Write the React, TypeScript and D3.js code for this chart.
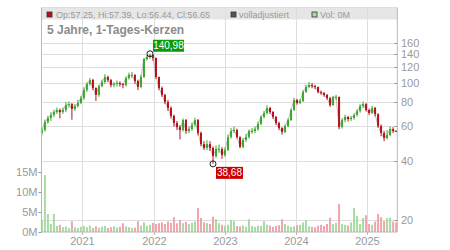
import React from "react";
import * as d3 from "d3";

// Closing prices, one per ~15-day period
const closes = [
  57.6, 63.2, 66.3, 68.7, 71.1, 72.8, 71.1, 72.8, 77.2, 78.1,
  73.7, 76.3, 79.1, 83.8, 92.1, 98.8, 103.6, 94.3, 86.9, 96.5,
  101.2, 107.3, 103.6, 97.7, 98.8, 100.0, 98.8, 97.7, 106.0, 109.9,
  109.9, 102.4, 95.4, 107.3, 132.5, 135.7, 139.0, 134.2, 107.3, 94.3,
  86.9, 80.0, 74.6, 67.9, 62.5, 59.6, 57.6, 64.7, 56.9, 58.2,
  61.1, 64.7, 55.6, 48.8, 46.6, 48.8, 46.6, 42.4, 46.1, 46.1,
  42.9, 45.5, 53.0, 56.9, 57.6, 53.0, 47.2, 51.2, 53.0, 56.9,
  56.9, 58.2, 61.8, 67.1, 70.3, 74.6, 71.1, 67.1, 62.5, 58.9,
  56.2, 60.3, 64.7, 72.8, 81.9, 79.1, 80.9, 90.0, 95.4, 97.7,
  96.5, 95.4, 90.0, 88.9, 86.9, 83.8, 77.2, 84.8, 84.8, 59.6,
  64.7, 67.1, 65.5, 66.3, 68.7, 71.9, 76.3, 78.1, 72.8, 70.3,
  74.6, 69.5, 60.3, 55.6, 52.4, 54.3, 58.2, 56.9, 56.65,
];
const firstOpen = 55.5;

// Period highs and lows
const highs = [
  59, 65, 68, 71, 73, 75, 74, 75, 80, 80.5,
  79, 78, 82, 86, 95, 101, 106, 105, 95, 98,
  104, 111, 109, 105, 101, 103, 102, 100, 108, 113,
  114, 111, 104, 110, 134, 139, 140.98, 140, 135, 108,
  96, 88, 82, 76, 69, 64, 61, 66, 65.5, 60,
  63, 66.5, 65.5, 56.5, 50.5, 51, 50.5, 47.5, 48, 48.5,
  47, 47, 54.5, 59, 60, 58.5, 53.5, 52.5, 55, 58,
  59, 60, 63.5, 68.5, 72, 77, 75.5, 72, 68, 63.5,
  59.5, 61.5, 66, 74, 84, 83, 83, 92, 98, 101,
  100, 98, 96, 91.5, 90, 88, 85, 86, 87, 85.5,
  66, 69, 68, 68, 70, 73.5, 78, 80.5, 79, 74,
  76.5, 75.5, 70, 61.5, 57, 57.5, 60, 59.5, 57.39,
];
const lows = [
  54, 56.5, 62, 64, 67, 69.5, 66, 69.5, 71, 75,
  65, 72, 75, 78, 82, 90, 97, 92, 81, 85,
  95, 99, 101, 95, 95, 96, 96, 94, 96, 104,
  106, 99, 92, 94, 106, 130, 133, 130, 105, 92,
  85, 78, 72, 66, 60, 57.5, 51.5, 56.5, 55, 55.5,
  57, 60, 54, 47.5, 45.5, 45.5, 45, 38.68, 41.5, 44,
  41, 42, 45, 52, 55.5, 52, 46.5, 46.5, 50, 52,
  55, 55.5, 57, 61, 66, 69, 69.5, 65.5, 61, 57.5,
  54.5, 55.5, 59.5, 64, 72, 77.5, 78, 80, 89, 94,
  94, 93, 88.5, 87, 85, 82, 75.5, 76.5, 82, 58,
  58.5, 63, 63.5, 64, 65, 67.5, 70.5, 74.5, 71.5, 68.5,
  69.5, 67.5, 59, 53.5, 50.5, 51.5, 53.5, 55.5, 56.44,
];

// Volume per period, in millions
const volumesM = [
  3.0, 14.2, 4.5, 2.0, 4.5, 1.5, 1.8, 1.2, 1.4, 1.0,
  2.7, 1.2, 1.0, 1.3, 1.5, 1.2, 1.6, 1.0, 1.4, 1.1,
  1.3, 1.5, 1.0, 1.2, 1.4, 1.1, 1.3, 2.2, 1.4, 1.2,
  1.0, 1.1, 2.7, 1.6, 2.4, 1.5, 1.8, 2.3, 2.0, 2.2,
  2.4, 2.0, 2.6, 2.3, 3.7, 2.2, 3.0, 2.2, 2.5, 2.0,
  2.3, 2.6, 6.0, 3.5, 2.4, 2.2, 2.0, 3.8, 3.2, 2.2,
  1.8, 1.6, 1.8, 3.0, 2.7, 1.5, 1.4, 1.6, 1.3, 3.2,
  1.5, 1.3, 1.6, 1.5, 2.7, 1.8, 1.6, 1.3, 1.5, 1.7,
  3.2, 2.0, 1.6, 1.3, 1.4, 1.7, 1.8, 2.4, 3.0, 1.4,
  1.3, 1.2, 1.6, 1.8, 1.5, 2.0, 3.6, 2.0, 2.3, 7.0,
  2.0, 1.8, 1.6, 2.4, 6.0, 4.0, 2.0, 3.5, 4.2, 2.0,
  1.8, 2.6, 4.5, 3.7, 2.7, 3.5, 3.6, 2.6, 2.4,
];

const startDate = new Date(2020, 5, 8);
const periodDays = 15.38;
const domainStart = new Date(2020, 5, 6);
const domainEnd = new Date(2025, 5, 3);

const yearTicks = [2021, 2022, 2023, 2024, 2025];
const priceTicks = [20, 40, 60, 80, 100, 120, 140, 160];
const volumeTicks = [0, 5, 10, 15];
const volumeLabels = ["0M", "5M", "10M", "15M"];

const highMark = { index: 36, value: 140.98, label: "140,98" };
const lowMark = { index: 57, value: 38.68, label: "38,68" };

const headerText = "Op:57.25, Hi:57.39, Lo:56.44, Cl:56.65";
const titleText = "5 Jahre, 1-Tages-Kerzen";
const legendAdjusted = "volladjustiert";
const legendVolume = "Vol: 0M";

const FONT = "'Liberation Sans', Arial, sans-serif";
const RED = "#b5121b";
const GREEN = "#3fa72f";
const GRID = "#dedede";
const AXIS = "#b8b8b8";
const TEXT = "#9a9a9a";

export default function App() {
  const L = 41.5, R = 397.3, T = 7.5, B = 232;
  const x = d3.scaleTime().domain([domainStart, domainEnd]).range([L, R]);
  const y = d3.scaleLog().domain([20, 160]).range([220, 43]);
  const yv = d3.scaleLinear().domain([0, 15]).range([B, 172]);

  const candles = closes.map((c, i) => {
    const date = new Date(startDate.getTime() + i * periodDays * 864e5);
    const open = i === 0 ? firstOpen : closes[i - 1];
    return { date, open, close: c, high: highs[i], low: lows[i], vol: volumesM[i], up: c >= open };
  });

  const line = d3
    .line<(typeof candles)[number]>()
    .x((d) => x(d.date))
    .y((d) => y(d.close));

  const hm = candles[highMark.index];
  const lm = candles[lowMark.index];
  const hx = x(hm.date), hy = y(highMark.value);
  const lx = x(lm.date), ly = y(lowMark.value);

  return (
    <svg
      width={450}
      height={250}
      style={{ position: "absolute", left: 0, top: 0, fontFamily: FONT }}
    >
      <rect x={0} y={0} width={450} height={250} fill="#fff" />
      {/* header band */}
      <rect x={L} y={T} width={R - L} height={12} fill="#e6e6e6" />
      {/* horizontal grid */}
      {priceTicks.map((t) => (
        <line key={t} x1={L} x2={R} y1={Math.round(y(t)) + 0.5} y2={Math.round(y(t)) + 0.5} stroke={GRID} />
      ))}
      <line x1={L} x2={R} y1={T} y2={T} stroke={GRID} />
      {/* vertical grid */}
      {yearTicks.map((yr) => {
        const xx = Math.round(x(new Date(yr, 0, 1))) + 0.5;
        return <line key={yr} x1={xx} x2={xx} y1={T} y2={B} stroke={GRID} />;
      })}
      {/* volume */}
      {candles.map((d, i) => (
        <rect
          key={"v" + i}
          x={x(d.date) - 1}
          y={yv(d.vol)}
          width={2}
          height={B - yv(d.vol)}
          fill={d.up ? "#a8dba2" : "#f0a5ad"}
        />
      ))}
      {/* close line */}
      <path d={line(candles) || ""} fill="none" stroke="#b0b0b0" strokeWidth={0.8} />
      {/* candles */}
      {candles.map((d, i) => {
        const y1 = y(Math.max(d.open, d.close));
        const y2 = y(Math.min(d.open, d.close));
        const cx = x(d.date);
        const col = d.up ? GREEN : RED;
        return (
          <g key={"c" + i}>
            <line x1={cx} x2={cx} y1={y(d.high)} y2={y(d.low)} stroke={col} strokeWidth={1} />
            <rect x={cx - 1} y={y1} width={2} height={Math.max(1, y2 - y1)} fill={col} />
          </g>
        );
      })}
      {/* markers */}
      <circle cx={hx} cy={hy} r={3} fill="none" stroke="#222" strokeWidth={1} />
      <rect x={hx + 3} y={hy - 14} width={31} height={12} fill="#0a9a0a" />
      <text x={hx + 18.5} y={hy - 4.5} fontSize={10} fill="#fff" textAnchor="middle">{highMark.label}</text>
      <circle cx={lx} cy={ly} r={3} fill="none" stroke="#222" strokeWidth={1} />
      <rect x={lx + 3} y={ly + 3} width={27} height={12} fill="#cc0000" />
      <text x={lx + 16.5} y={ly + 12.5} fontSize={10} fill="#fff" textAnchor="middle">{lowMark.label}</text>
      {/* header content */}
      <rect x={47} y={12} width={5} height={5} fill={RED} stroke="#333" strokeWidth={0.8} />
      <text x={56} y={17.5} fontSize={9} fill={TEXT}>{headerText}</text>
      <rect x={231} y={12} width={5} height={5} fill="#555" stroke="#333" strokeWidth={0.8} />
      <text x={239} y={17.5} fontSize={9} fill={TEXT}>{legendAdjusted}</text>
      <rect x={312} y={12} width={5} height={5} fill="#a8dba2" stroke="#333" strokeWidth={0.8} />
      <text x={320} y={17.5} fontSize={9} fill={TEXT}>{legendVolume}</text>
      <text x={47} y={34} fontSize={12} fontWeight="bold" fill="#8c8c8c">{titleText}</text>
      {/* axes */}
      <line x1={L} x2={L} y1={T} y2={B} stroke={AXIS} />
      <line x1={R} x2={R} y1={T} y2={B} stroke={AXIS} />
      <line x1={L} x2={R} y1={B} y2={B} stroke={AXIS} />
      {priceTicks.map((t) => (
        <g key={"pt" + t}>
          <line x1={R - 3} x2={R} y1={Math.round(y(t)) + 0.5} y2={Math.round(y(t)) + 0.5} stroke="#999" />
          <text x={401} y={y(t) + 4} fontSize={11} fill={TEXT}>{t}</text>
        </g>
      ))}
      {volumeTicks.map((t, i) => (
        <g key={"vt" + t}>
          <line x1={L - 3} x2={L} y1={Math.round(yv(t)) + 0.5} y2={Math.round(yv(t)) + 0.5} stroke="#999" />
          <text x={37.5} y={yv(t) + 4} fontSize={11} fill={TEXT} textAnchor="end">{volumeLabels[i]}</text>
        </g>
      ))}
      {yearTicks.map((yr) => {
        const xx = Math.round(x(new Date(yr, 0, 1))) + 0.5;
        return (
          <g key={"xt" + yr}>
            <line x1={xx} x2={xx} y1={B} y2={B + 3} stroke={AXIS} />
            <text x={xx} y={245} fontSize={11} fill={TEXT} textAnchor="middle">{yr}</text>
          </g>
        );
      })}
    </svg>
  );
}
